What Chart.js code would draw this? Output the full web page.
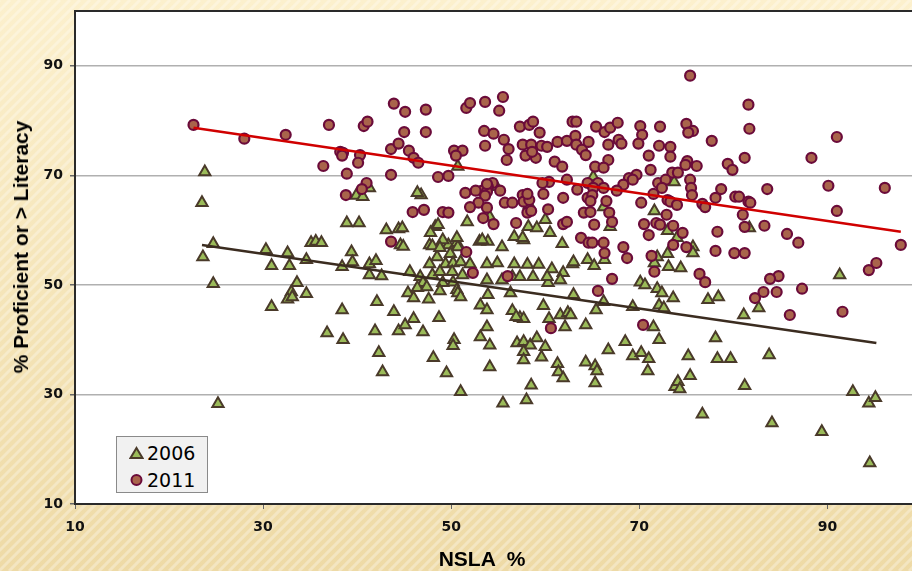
<!DOCTYPE html>
<html>
<head>
<meta charset="utf-8">
<script src="https://cdn.jsdelivr.net/npm/chart.js@4.4.1/dist/chart.umd.min.js"></script>
<style>
  html, body { margin: 0; padding: 0; width: 912px; height: 571px; overflow: hidden; background: #f5e5b8; }
  #wrap { position: relative; width: 930px; height: 571px; }
  #chart { position: absolute; left: 0; top: 0; }
  .axis-title { position: absolute; font: bold 21px "Liberation Sans", Arial, sans-serif; color: #000; white-space: pre; }
  #ytitle { left: 21px; top: 247px; transform: translate(-50%, -50%) rotate(-90deg); }
  #xtitle { left: 482px; top: 559px; transform: translate(-50%, -50%); }
  #legend { position: absolute; left: 116px; top: 436px; width: 90px; height: 55px; background: #f1f1f1; border: 1px solid #8a8a8a; font: 19px "DejaVu Sans", sans-serif; color: #000; }
  #legend .row { position: absolute; left: 0; height: 24px; line-height: 24px; }
  #legend svg { position: absolute; left: 12px; top: 5px; }
  #legend span { position: absolute; left: 30px; top: 0; }
</style>
</head>
<body>
<div id="wrap">
  <canvas id="chart" width="930" height="571"></canvas>
  <div class="axis-title" id="ytitle">% Proficient or &gt; Literacy</div>
  <div class="axis-title" id="xtitle">NSLA  %</div>
  <div id="legend">
    <div class="row" style="top:4px">
      <svg width="15" height="14"><polygon points="7.5,2 13.5,12 1.5,12" fill="#9bbb59" stroke="#4a3a2a" stroke-width="2"/></svg>
      <span>2006</span>
    </div>
    <div class="row" style="top:31px">
      <svg width="15" height="14"><circle cx="7.5" cy="7" r="5" fill="#a9644b" stroke="#6b0b3a" stroke-width="2"/></svg>
      <span>2011</span>
    </div>
  </div>
</div>
<script>
// tick values
const xTickVals = [10, 30, 50, 70, 90];
const yTickVals = [10, 30, 50, 70, 90];

// 2006 : NSLA % vs % proficient
const nsla2006 = [23.8, 23.5, 24.7, 23.6, 24.7, 25.2, 30.3, 32.6, 34.6, 30.9, 32.8, 35.1, 35.6, 36.2, 38.9, 40.2, 39.9, 40.6, 41.3, 39.4,
  39.5, 38.4, 41.3, 42.0, 43.1, 44.4, 44.6, 41.3, 42.6, 33.6, 33.0, 32.6, 33.1, 34.6, 30.9, 38.4, 42.1, 43.9, 36.8, 38.5,
  41.9, 44.4, 42.3, 42.7, 44.9, 47.7, 49.0, 49.7, 50.6, 50.7, 53.0, 53.9, 55.4, 57.7, 61.8, 48.5, 49.9, 47.7, 49.4, 50.2,
  51.0, 52.0, 53.8, 54.9, 56.7, 58.1, 59.3, 60.7, 61.9, 62.9, 63.0, 64.5, 45.6, 46.7, 48.0, 48.8, 50.1, 51.2, 47.0, 46.4,
  47.4, 49.1, 50.2, 50.6, 45.4, 46.0, 47.6, 48.8, 50.7, 51.0, 53.8, 55.4, 56.5, 57.3, 58.7, 60.3, 60.2, 61.6, 56.3, 53.9,
  63.0, 53.1, 53.8, 56.5, 57.3, 57.7, 56.9, 59.8, 61.6, 62.4, 62.7, 60.4, 62.1, 64.3, 45.1, 46.0, 47.0, 48.7, 53.8, 53.1,
  54.1, 50.3, 50.2, 57.0, 57.7, 58.4, 59.1, 60.0, 57.7, 57.7, 59.6, 61.3, 61.4, 61.9, 64.3, 48.1, 49.5, 54.1, 58.5, 51.0,
  55.5, 58.0, 51.7, 53.3, 56.7, 57.6, 58.2, 59.1, 60.0, 48.3, 48.6, 47.8, 49.1, 50.6, 48.0, 48.8, 46.8, 46.4, 50.7, 44.8,
  54.1, 60.5, 58.3, 54.8, 65.1, 66.2, 66.9, 71.6, 73.0, 74.0, 73.7, 65.2, 66.3, 73.0, 75.7, 75.7, 71.9, 71.6, 73.1, 74.4,
  70.1, 70.6, 71.9, 72.4, 73.6, 72.1, 72.6, 69.3, 66.2, 65.4, 77.3, 78.4, 81.1, 71.5, 72.1, 68.5, 66.7, 69.3, 70.2, 71.0,
  70.9, 65.3, 65.5, 65.3, 75.2, 75.4, 73.8, 74.1, 74.3, 78.1, 78.3, 79.7, 81.2, 76.7, 91.3, 82.7, 83.8, 92.7, 94.4, 95.1,
  84.1, 89.4, 94.5, 81.7];
const prof2006 = [70.6, 65.0, 57.5, 55.1, 50.2, 28.3, 56.4, 55.8, 54.6, 53.5, 53.5, 57.7, 57.9, 57.7, 61.3, 61.3, 66.3, 66.1, 67.7, 56.0,
  54.2, 53.3, 53.8, 54.4, 60.0, 60.2, 57.3, 51.8, 51.6, 50.4, 48.7, 47.4, 47.8, 48.4, 46.0, 45.4, 46.9, 45.1, 41.2, 40.0,
  41.6, 41.6, 37.6, 34.1, 57.0, 57.3, 57.7, 57.3, 57.7, 56.9, 57.9, 57.9, 56.9, 58.2, 57.5, 55.1, 55.7, 53.8, 53.8, 54.0,
  54.2, 53.8, 53.8, 54.0, 53.8, 53.7, 53.7, 52.9, 52.2, 53.8, 54.2, 54.6, 52.4, 51.5, 51.8, 52.4, 52.4, 51.8, 50.4, 49.5,
  49.6, 50.4, 50.5, 49.1, 48.5, 47.6, 47.4, 48.9, 48.5, 47.8, 50.9, 50.9, 51.5, 51.5, 51.5, 50.4, 51.5, 50.9, 48.5, 48.2,
  48.2, 46.3, 45.4, 45.3, 44.0, 43.8, 44.2, 46.2, 44.5, 44.9, 44.5, 43.8, 42.3, 42.7, 42.7, 43.8, 41.4, 44.0, 42.3, 40.5,
  39.0, 40.0, 38.9, 39.4, 39.6, 39.0, 40.3, 38.7, 37.8, 36.3, 36.8, 35.6, 34.1, 33.0, 35.9, 36.7, 33.9, 35.0, 31.7, 30.5,
  28.4, 29.0, 61.5, 58.2, 58.8, 58.6, 60.6, 60.4, 61.9, 60.6, 61.0, 59.5, 58.2, 58.6, 57.1, 56.8, 66.4, 66.8, 71.6, 60.4,
  62.4, 59.5, 64.6, 67.9, 69.7, 64.2, 60.6, 63.5, 59.9, 58.6, 68.8, 53.5, 54.6, 55.7, 56.9, 55.8, 55.1, 54.0, 53.3, 53.1,
  50.5, 50.0, 49.3, 48.5, 47.6, 46.3, 45.8, 46.0, 46.9, 45.4, 47.3, 47.8, 44.5, 42.3, 40.0, 39.6, 38.1, 37.0, 37.6, 36.5,
  34.3, 35.2, 34.3, 32.1, 37.0, 33.4, 31.4, 32.3, 31.0, 40.3, 36.5, 36.5, 31.6, 26.4, 51.8, 45.8, 37.2, 30.5, 28.4, 29.4,
  24.8, 23.2, 17.5, 60.4];

// 2011
const nsla2011 = [22.6, 28.0, 32.4, 37.0, 38.2, 38.5, 38.4, 40.3, 40.7, 41.1, 43.9, 36.4, 38.9, 40.1, 43.6, 44.4, 43.6, 41.0, 40.5, 38.8,
  43.6, 45.1, 47.3, 45.0, 47.3, 45.5, 46.0, 46.5, 48.6, 49.7, 50.3, 51.2, 50.5, 51.6, 52.0, 53.6, 55.5, 55.1, 53.5, 54.5,
  55.6, 53.6, 56.1, 55.9, 57.3, 58.3, 58.7, 59.4, 57.6, 58.5, 59.6, 60.2, 57.9, 59.0, 58.6, 61.3, 62.3, 62.9, 63.3, 63.2,
  63.3, 63.9, 64.6, 61.0, 61.8, 62.3, 60.4, 59.7, 63.4, 64.5, 54.4, 53.9, 53.3, 52.6, 51.5, 53.8, 53.6, 55.2, 52.9, 52.0,
  53.8, 55.7, 56.5, 57.6, 57.7, 58.3, 59.8, 61.9, 58.1, 58.5, 60.3, 64.5, 64.1, 45.9, 47.1, 49.1, 49.7, 53.4, 54.5, 56.9,
  61.9, 62.3, 63.8, 64.6, 51.6, 52.3, 56.0, 60.6, 53.8, 58.1, 75.4, 81.6, 81.7, 65.4, 66.3, 66.9, 67.7, 66.7, 67.8, 68.1,
  64.3, 70.1, 70.3, 69.9, 72.2, 72.1, 73.3, 73.3, 71.0, 75.0, 75.7, 75.2, 77.7, 81.2, 79.4, 79.9, 75.1, 74.9, 76.1, 66.7,
  65.3, 66.2, 71.2, 73.5, 74.1, 69.7, 68.9, 68.3, 69.3, 65.6, 72.0, 72.8, 72.4, 75.4, 75.5, 75.6, 67.6, 65.1, 65.0, 66.2,
  66.5, 64.8, 71.5, 70.2, 73.0, 73.3, 74.0, 76.7, 77.0, 78.1, 78.7, 80.2, 80.6, 81.6, 64.8, 66.8, 67.1, 65.2, 70.5, 71.0,
  71.8, 72.2, 72.9, 73.6, 74.6, 78.3, 81.0, 81.2, 65.0, 66.2, 66.3, 68.3, 68.7, 71.3, 75.0, 78.1, 80.1, 81.2, 71.6, 73.6,
  67.1, 65.6, 76.4, 77.0, 70.4, 91.0, 88.3, 90.1, 96.1, 83.6, 81.8, 91.0, 83.3, 85.7, 86.9, 97.8, 94.4, 95.2, 84.8, 83.9,
  83.2, 82.3, 84.6, 87.3, 86.0, 91.6];
const prof2011 = [79.2, 76.7, 77.4, 79.2, 74.3, 74.1, 73.6, 73.7, 79.0, 79.8, 83.1, 71.7, 70.3, 72.3, 74.8, 75.8, 70.1, 68.6, 67.5, 66.4,
  57.9, 81.6, 82.0, 77.9, 77.9, 74.5, 73.2, 72.3, 69.7, 69.9, 74.5, 74.5, 73.6, 82.3, 83.2, 83.4, 84.3, 81.8, 78.1, 77.6,
  76.5, 75.4, 74.8, 72.8, 78.9, 79.2, 79.8, 77.8, 75.6, 75.6, 75.4, 75.2, 73.6, 73.2, 74.3, 76.1, 76.3, 79.8, 79.8, 77.2,
  75.6, 74.7, 76.1, 72.5, 71.6, 69.2, 68.8, 68.6, 67.4, 68.6, 68.6, 67.9, 67.2, 67.2, 66.8, 67.0, 66.3, 67.2, 65.0, 64.2,
  64.1, 65.0, 65.0, 66.4, 65.2, 65.5, 66.6, 65.9, 63.2, 63.5, 63.8, 65.9, 63.2, 63.3, 63.7, 63.3, 63.2, 62.2, 61.1, 61.3,
  61.1, 61.5, 58.6, 57.7, 56.0, 52.2, 51.6, 42.1, 68.4, 66.6, 88.2, 82.9, 78.5, 78.9, 77.9, 78.7, 79.6, 75.6, 76.5, 75.8,
  73.7, 79.0, 77.4, 75.8, 78.9, 75.4, 75.2, 73.4, 73.6, 79.4, 78.1, 77.8, 76.3, 73.2, 72.1, 71.0, 72.6, 71.9, 71.7, 72.8,
  71.6, 71.4, 71.0, 70.5, 70.5, 70.1, 69.5, 68.3, 69.2, 68.6, 68.6, 69.2, 67.7, 69.2, 67.7, 66.4, 67.2, 67.7, 66.4, 67.7,
  65.3, 65.3, 66.6, 65.0, 65.5, 65.2, 64.6, 64.8, 64.2, 65.9, 67.5, 66.1, 66.1, 65.2, 63.3, 63.2, 61.5, 61.0, 61.1, 59.1,
  61.3, 61.0, 62.8, 60.8, 59.5, 59.7, 62.8, 60.6, 57.7, 57.7, 55.8, 56.9, 54.9, 55.3, 56.9, 56.2, 55.8, 55.8, 52.4, 57.3,
  51.1, 48.9, 52.0, 50.5, 42.7, 77.0, 73.2, 68.1, 67.7, 67.5, 65.0, 63.5, 60.8, 59.3, 57.7, 57.3, 52.7, 54.0, 51.6, 51.1,
  48.7, 47.6, 48.7, 49.3, 44.5, 45.1];

// linear trend end points
const trend2006X = [23.5, 95.2];
const trend2006Y = [57.3, 39.4];
const trend2011X = [22.6, 97.8];
const trend2011Y = [78.7, 59.7];

function pairs(xs, ys) {
    return xs.map((x, i) => ({ x: x, y: ys[i] }));
}

// striped cream backdrop, white plot area, top frame line
const backdrop = {
    id: 'backdrop',
    beforeDraw(chart) {
        const { ctx, width, height, chartArea: a } = chart;
        ctx.save();
        const g = ctx.createLinearGradient(0, 0, 0, height);
        g.addColorStop(0, '#fcf0cd');
        g.addColorStop(1, '#eedaa6');
        ctx.fillStyle = g;
        ctx.fillRect(0, 0, width, height);
        ctx.strokeStyle = 'rgba(255,255,255,0.3)';
        ctx.lineWidth = 3;
        for (let i = -height; i < width; i += 10) {
            ctx.beginPath();
            ctx.moveTo(i, height);
            ctx.lineTo(i + height, 0);
            ctx.stroke();
        }
        ctx.fillStyle = '#ffffff';
        ctx.fillRect(a.left, a.top, a.right - a.left, a.bottom - a.top);
        ctx.restore();
    },
    beforeDatasetsDraw(chart) {
        const { ctx, chartArea: a } = chart;
        ctx.save();
        ctx.strokeStyle = '#2a2a2a';
        ctx.lineWidth = 2;
        ctx.beginPath();
        ctx.moveTo(a.left, a.top);
        ctx.lineTo(a.right, a.top);
        ctx.stroke();
        ctx.restore();
    }
};

const tickFont = { family: 'DejaVu Sans', weight: 'bold', size: 14 };

new Chart(document.getElementById('chart'), {
    type: 'scatter',
    data: {
        datasets: [
            {
                label: '2011 trend', type: 'line', order: 0,
                data: pairs(trend2011X, trend2011Y),
                borderColor: '#d00000', borderWidth: 2.5, pointRadius: 0, fill: false
            },
            {
                label: '2006 trend', type: 'line', order: 0,
                data: pairs(trend2006X, trend2006Y),
                borderColor: '#3b2c20', borderWidth: 2.5, pointRadius: 0, fill: false
            },
            {
                label: '2011', order: 1,
                data: pairs(nsla2011, prof2011),
                pointStyle: 'circle', pointRadius: 5, borderWidth: 2.2,
                backgroundColor: '#a9644b', borderColor: '#6b0b3a'
            },
            {
                label: '2006', order: 2,
                data: pairs(nsla2006, prof2006),
                pointStyle: 'triangle', pointRadius: 6.5, borderWidth: 2,
                backgroundColor: '#9bbb59', borderColor: '#4a3a2a'
            }
        ]
    },
    options: {
        responsive: false,
        animation: false,
        layout: { padding: { top: 11, right: 7, left: 0, bottom: 0 } },
        plugins: {
            legend: { display: false },
            tooltip: { enabled: false }
        },
        scales: {
            x: {
                type: 'linear', min: 10, max: 100,
                afterBuildTicks: s => { s.ticks = xTickVals.map(v => ({ value: v })); },
                afterFit: s => { s.height = 67; s.paddingLeft = 0; s.paddingRight = 0; },
                grid: { drawOnChartArea: false, tickLength: 5, tickColor: '#666' },
                border: { color: '#2a2a2a', width: 2 },
                ticks: { font: tickFont, color: '#111', padding: 10, maxRotation: 0 }
            },
            y: {
                type: 'linear', min: 10, max: 100,
                afterBuildTicks: s => { s.ticks = yTickVals.map(v => ({ value: v })); },
                afterFit: s => { s.width = 75; s.paddingTop = 0; s.paddingBottom = 0; },
                grid: { color: '#b0b0b0', lineWidth: 1.5, tickLength: 5, tickColor: '#666' },
                border: { color: '#2a2a2a', width: 2 },
                ticks: { font: tickFont, color: '#111', padding: 7 }
            }
        }
    },
    plugins: [backdrop]
});
</script>
</body>
</html>
